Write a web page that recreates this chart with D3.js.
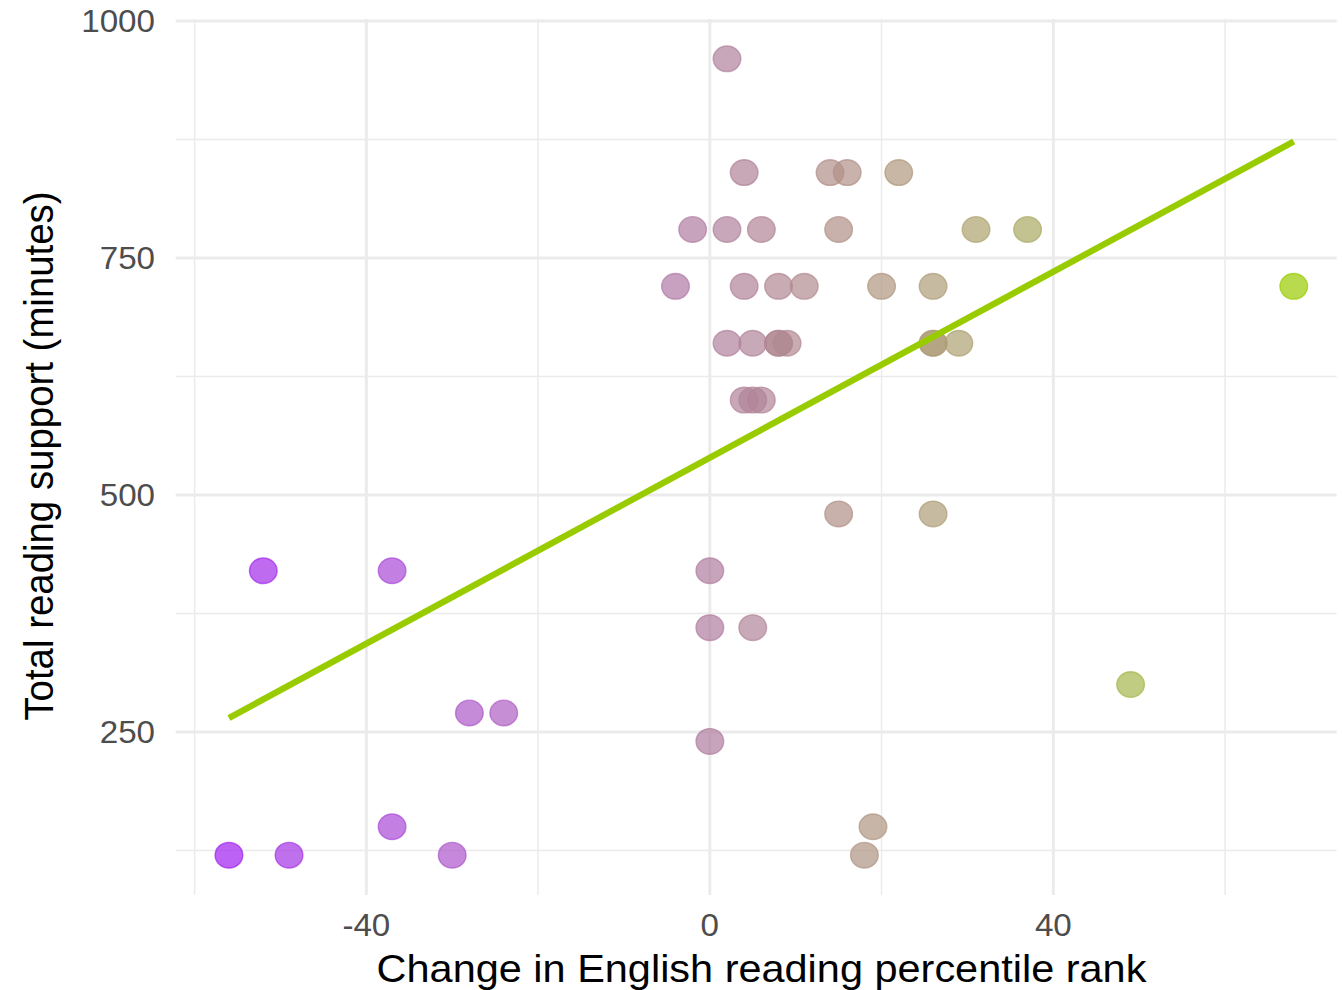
<!DOCTYPE html>
<html>
<head>
<meta charset="utf-8">
<script src="https://cdn.jsdelivr.net/npm/d3@7/dist/d3.min.js"></script>
<style>
  html, body { margin: 0; padding: 0; background: #ffffff; }
  svg { display: block; }
  text { font-family: "Liberation Sans", Arial, Helvetica, sans-serif; }
</style>
</head>
<body>
<svg id="chart" width="1342" height="990"></svg>
<script>
// Change in English reading percentile rank (x) vs total reading support minutes (y)
const changeRank = [
  2,
  4, 14, 16, 22,
  -2, 2, 6, 15, 31, 37,
  -4, 4, 8, 11, 20, 26, 68,
  2, 5, 8, 8, 9, 26, 26, 29,
  4, 5, 6,
  15, 26,
  -52, -37, 0,
  0, 5,
  49,
  -28, -24,
  0,
  -37, 19,
  -56, -49, -30, 18
];
const supportMinutes = [
  960,
  840, 840, 840, 840,
  780, 780, 780, 780, 780, 780,
  720, 720, 720, 720, 720, 720, 720,
  660, 660, 660, 660, 660, 660, 660, 660,
  600, 600, 600,
  480, 480,
  420, 420, 420,
  360, 360,
  300,
  270, 270,
  240,
  150, 150,
  120, 120, 120, 120
];
const xMajorTicks = [-40, 0, 40];
const xMinorTicks = [-60, -20, 20, 60];
const yMajorTicks = [250, 500, 750, 1000];
const yMinorTicks = [125, 375, 625, 875];

const points = changeRank.map((x, i) => ({ x, y: supportMinutes[i] }));

const svg = d3.select("#chart");
const panel = { left: 175.7, right: 1336.7, top: 19, bottom: 895 };
const stretch = 1.08; // horizontal glyph scaling of the output

const x = d3.scaleLinear().domain([-62.2, 73.0]).range([panel.left, panel.right]);
const y = d3.scaleLinear().domain([78, 1002]).range([panel.bottom, panel.top]);

const xExt = d3.extent(changeRank);
const colour = d3.scaleLinear()
  .domain(xExt)
  .range(["#A020F0", "#99CC00"])
  .interpolate(d3.interpolateLab);

const grid = svg.append("g");
// minor grid
grid.selectAll(".xmin").data(xMinorTicks).join("line")
  .attr("x1", d => x(d)).attr("x2", d => x(d))
  .attr("y1", panel.top).attr("y2", panel.bottom)
  .attr("stroke", "#ebebeb").attr("stroke-width", 1.5);
grid.selectAll(".ymin").data(yMinorTicks).join("line")
  .attr("y1", d => y(d)).attr("y2", d => y(d))
  .attr("x1", panel.left).attr("x2", panel.right)
  .attr("stroke", "#ebebeb").attr("stroke-width", 1.5);
// major grid
grid.selectAll(".xmaj").data(xMajorTicks).join("line")
  .attr("x1", d => x(d)).attr("x2", d => x(d))
  .attr("y1", panel.top).attr("y2", panel.bottom)
  .attr("stroke", "#ebebeb").attr("stroke-width", 3);
grid.selectAll(".ymaj").data(yMajorTicks).join("line")
  .attr("y1", d => y(d)).attr("y2", d => y(d))
  .attr("x1", panel.left).attr("x2", panel.right)
  .attr("stroke", "#ebebeb").attr("stroke-width", 3);

// points
svg.append("g").selectAll("ellipse").data(points).join("ellipse")
  .attr("cx", d => x(d.x))
  .attr("cy", d => y(d.y))
  .attr("rx", 13.8)
  .attr("ry", 12.8)
  .attr("fill", d => colour(d.x))
  .attr("fill-opacity", 0.7)
  .attr("stroke", d => colour(d.x))
  .attr("stroke-opacity", 0.7)
  .attr("stroke-width", 1.4);

// least-squares fit line
const mx = d3.mean(changeRank), my = d3.mean(supportMinutes);
const sxy = d3.sum(points, p => (p.x - mx) * (p.y - my));
const sxx = d3.sum(points, p => (p.x - mx) ** 2);
const slope = sxy / sxx, intercept = my - slope * mx;
const fit = xExt.map(v => ({ x: v, y: intercept + slope * v }));
svg.append("path")
  .datum(fit)
  .attr("d", d3.line().x(d => x(d.x)).y(d => y(d.y)))
  .attr("fill", "none")
  .attr("stroke", "#99CC00")
  .attr("stroke-width", 6.3);

// tick labels
const tickSize = 30.7, titleSize = 38.4;
svg.append("g").selectAll("text").data(yMajorTicks).join("text")
  .attr("transform", d => `translate(155,${y(d) + 11}) scale(${stretch},1)`)
  .attr("text-anchor", "end")
  .attr("font-size", tickSize)
  .attr("fill", "#4d4d4d")
  .text(d => d);
svg.append("g").selectAll("text").data(xMajorTicks).join("text")
  .attr("transform", d => `translate(${x(d)},936) scale(${stretch},1)`)
  .attr("text-anchor", "middle")
  .attr("font-size", tickSize)
  .attr("fill", "#4d4d4d")
  .text(d => d);

// axis titles
svg.append("text")
  .attr("transform", `translate(761.5,982) scale(${stretch},1)`)
  .attr("text-anchor", "middle")
  .attr("font-size", titleSize)
  .attr("fill", "#000000")
  .text("Change in English reading percentile rank");
svg.append("text")
  .attr("transform", `translate(53,456) scale(${stretch},1) rotate(-90)`)
  .attr("text-anchor", "middle")
  .attr("font-size", titleSize)
  .attr("fill", "#000000")
  .text("Total reading support (minutes)");
</script>
</body>
</html>
